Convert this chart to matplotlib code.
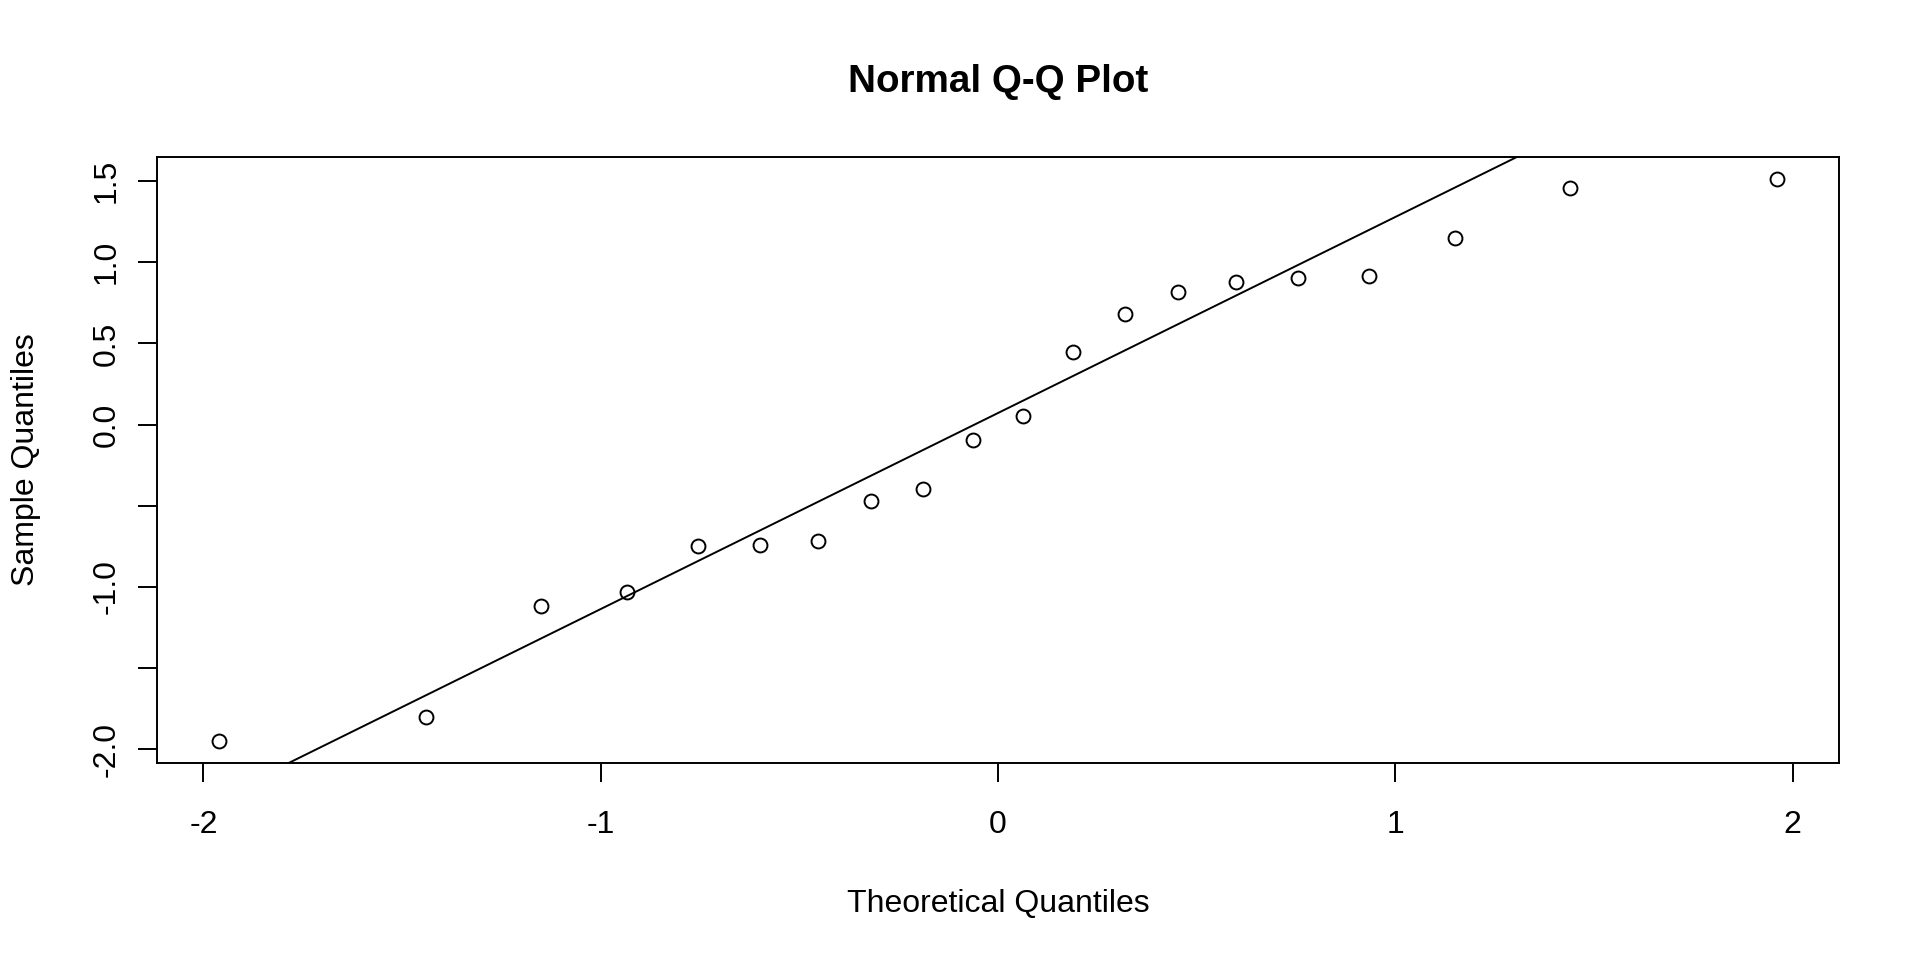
import matplotlib
matplotlib.use("Agg")
import matplotlib.pyplot as plt
import numpy as np

OUT_PATH = "out.png"

# theoretical normal quantiles (n = 20)
THEORETICAL = [-1.960, -1.440, -1.150, -0.935, -0.755, -0.598, -0.454, -0.319,
               -0.189, -0.063, 0.063, 0.189, 0.319, 0.454, 0.598, 0.755,
               0.935, 1.150, 1.440, 1.960]
SAMPLE = [-1.946, -1.803, -1.117, -1.034, -0.749, -0.741, -0.719, -0.472,
          -0.397, -0.095, 0.055, 0.448, 0.681, 0.816, 0.879, 0.906,
          0.918, 1.148, 1.456, 1.510]

X_TICKS = [-2, -1, 0, 1, 2]
X_TICK_LABELS = ["-2", "-1", "0", "1", "2"]
Y_TICKS = [-2.0, -1.5, -1.0, -0.5, 0.0, 0.5, 1.0, 1.5]
Y_TICK_LABELS = ["-2.0", "", "-1.0", "", "0.0", "0.5", "1.0", "1.5"]

TITLE = "Normal Q-Q Plot"
X_LABEL = "Theoretical Quantiles"
Y_LABEL = "Sample Quantiles"

W, H = 1920, 960
BASE_PT = 23
LW = 1.4


def qq_line(x, y):
    # same as R's qqline: through the 1st and 3rd quartiles
    y_q = np.quantile(y, [0.25, 0.75])
    x_q = np.array([-0.6744898, 0.6744898])
    slope = (y_q[1] - y_q[0]) / (x_q[1] - x_q[0])
    intercept = y_q[0] - slope * x_q[0]
    return slope, intercept


def main():
    plt.rcParams["font.family"] = ["Liberation Sans", "DejaVu Sans"]

    fig = plt.figure(figsize=(W / 100, H / 100), dpi=100)
    left, right, top, bottom = 157, 1839, 157, 763
    ax = fig.add_axes([left / W, 1 - bottom / H, (right - left) / W, (bottom - top) / H])

    x = np.array(THEORETICAL)
    y = np.array(SAMPLE)

    ax.plot(x, y, linestyle="none", marker="o", markersize=10,
            markerfacecolor="none", markeredgecolor="black", markeredgewidth=LW)

    slope, intercept = qq_line(x, y)
    ax.axline((0, intercept), slope=slope, color="black", linewidth=LW)

    # R style 4% padding around the data range
    xr = x.max() - x.min()
    yr = y.max() - y.min()
    ax.set_xlim(x.min() - 0.04 * xr, x.max() + 0.04 * xr)
    ax.set_ylim(y.min() - 0.04 * yr, y.max() + 0.04 * yr)

    ax.set_xticks(X_TICKS)
    ax.set_xticklabels(X_TICK_LABELS)
    ax.set_yticks(Y_TICKS)
    ax.set_yticklabels(Y_TICK_LABELS)
    ax.tick_params(axis="both", direction="out", length=13.7, width=LW,
                   labelsize=BASE_PT, colors="black")
    ax.tick_params(axis="x", pad=20)
    ax.tick_params(axis="y", pad=11.5)
    plt.setp(ax.get_yticklabels(), rotation=90, va="center")

    for spine in ax.spines.values():
        spine.set_linewidth(LW)
        spine.set_color("black")

    cx = (left + right) / 2 / W
    cy = 1 - (top + bottom) / 2 / H
    fig.text(cx, 1 - 92.5 / H, TITLE, ha="center", va="baseline",
             fontsize=27.8, fontweight="bold")
    fig.text(cx, 1 - 912 / H, X_LABEL, ha="center", va="baseline", fontsize=BASE_PT)
    fig.text(34 / W, cy, Y_LABEL, ha="center", va="baseline", rotation=90,
             rotation_mode="anchor", fontsize=BASE_PT)

    fig.savefig(OUT_PATH, dpi=100, facecolor="white")
    plt.close(fig)


if __name__ == "__main__":
    main()
